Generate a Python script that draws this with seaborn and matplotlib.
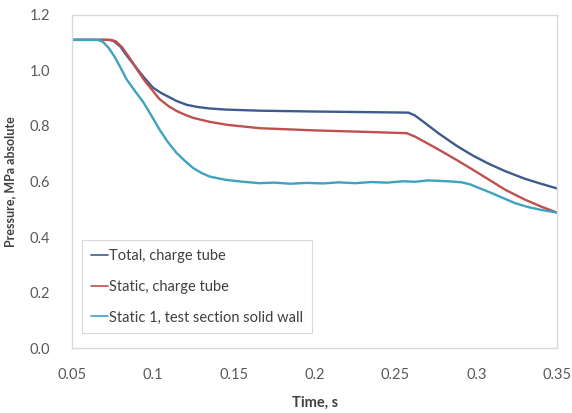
import matplotlib
matplotlib.use("Agg")
import matplotlib.pyplot as plt
import seaborn as sns
import pandas as pd

# Total pressure, charge tube
t_total = [0.050, 0.073, 0.076, 0.080, 0.084, 0.089, 0.094, 0.100, 0.105, 0.110,
           0.115, 0.121, 0.128, 0.135, 0.145, 0.166, 0.200, 0.230, 0.258, 0.262,
           0.268, 0.277, 0.288, 0.298, 0.308, 0.318, 0.330, 0.340, 0.350]
p_total = [1.11, 1.11, 1.105, 1.085, 1.052, 1.015, 0.978, 0.938, 0.919, 0.904,
           0.889, 0.876, 0.868, 0.863, 0.859, 0.855, 0.852, 0.850, 0.848, 0.838,
           0.812, 0.772, 0.728, 0.693, 0.663, 0.637, 0.610, 0.592, 0.575]

# Static pressure, charge tube
t_static = [0.050, 0.074, 0.077, 0.081, 0.085, 0.090, 0.095, 0.100, 0.104, 0.110,
            0.115, 0.120, 0.125, 0.135, 0.146, 0.166, 0.200, 0.230, 0.257, 0.262,
            0.268, 0.277, 0.288, 0.298, 0.308, 0.318, 0.330, 0.340, 0.350]
p_static = [1.11, 1.11, 1.105, 1.083, 1.050, 1.005, 0.962, 0.926, 0.897, 0.870,
            0.853, 0.840, 0.829, 0.815, 0.804, 0.792, 0.784, 0.779, 0.774, 0.762,
            0.743, 0.714, 0.677, 0.642, 0.606, 0.570, 0.535, 0.510, 0.488]

# Static 1, test section solid wall
t_wall = [0.050, 0.066, 0.069, 0.0725, 0.076, 0.080, 0.0837, 0.089, 0.094, 0.099,
          0.104, 0.109, 0.1146, 0.120, 0.125, 0.130, 0.135, 0.145, 0.156, 0.166,
          0.175, 0.185, 0.195, 0.205, 0.215, 0.225, 0.235, 0.245, 0.255, 0.262,
          0.270, 0.278, 0.285, 0.291, 0.296, 0.302, 0.308, 0.316, 0.324, 0.332,
          0.340, 0.350]
p_wall = [1.11, 1.11, 1.103, 1.082, 1.052, 1.010, 0.968, 0.925, 0.886, 0.838,
          0.788, 0.744, 0.703, 0.673, 0.648, 0.631, 0.618, 0.606, 0.599, 0.594,
          0.596, 0.592, 0.595, 0.593, 0.597, 0.594, 0.598, 0.596, 0.601, 0.599,
          0.604, 0.602, 0.600, 0.597, 0.590, 0.576, 0.562, 0.542, 0.522, 0.508,
          0.498, 0.488]

series_names = ["Total, charge tube", "Static, charge tube",
                "Static 1, test section solid wall"]
x_ticks = [0.05, 0.1, 0.15, 0.2, 0.25, 0.3, 0.35]
x_tick_labels = ["0.05", "0.1", "0.15", "0.2", "0.25", "0.3", "0.35"]
y_ticks = [0.0, 0.2, 0.4, 0.6, 0.8, 1.0, 1.2]
y_tick_labels = ["0.0", "0.2", "0.4", "0.6", "0.8", "1.0", "1.2"]

frames = []
for name, t, p in zip(series_names, [t_total, t_static, t_wall],
                      [p_total, p_static, p_wall]):
    frames.append(pd.DataFrame({"time": t, "pressure": p, "series": name}))
df = pd.concat(frames, ignore_index=True)

sns.set_theme(style="white")
plt.rcParams["font.family"] = ["Lato", "DejaVu Sans"]

fig = plt.figure(figsize=(5.72, 4.13), dpi=100)
ax = fig.add_axes([0.126, 0.157, 0.848, 0.807])

palette = {series_names[0]: "#3d5b8c",
           series_names[1]: "#c0504d",
           series_names[2]: "#3ea3bf"}

sns.lineplot(data=df, x="time", y="pressure", hue="series", palette=palette,
             estimator=None, linewidth=1.7, ax=ax, legend=True)

ax.set_xlim(0.05, 0.35)
ax.set_ylim(0.0, 1.2)
ax.set_xticks(x_ticks)
ax.set_xticklabels(x_tick_labels)
ax.set_yticks(y_ticks)
ax.set_yticklabels(y_tick_labels)

for s in ax.spines.values():
    s.set_color("#d9d9d9")
    s.set_linewidth(1.0)

ax.tick_params(axis="x", direction="in", length=4, width=0.8, color="#d0d0d0",
               labelsize=10.5, labelcolor="#595959", pad=14)
ax.tick_params(axis="y", direction="out", length=3, width=0.8, color="#d0d0d0",
               labelsize=10.5, labelcolor="#595959", pad=13)
ax.tick_params(top=False, right=False)

ax.set_xlabel("Time, s", fontsize=10.5, fontweight="bold", color="#404040",
              labelpad=10)
ax.set_ylabel("Pressure, MPa absolute", fontsize=9, fontweight="bold",
              color="#404040")
ax.yaxis.set_label_coords(-0.115, 0.5)

leg = ax.legend(loc="lower left", bbox_to_anchor=(0.02, 0.045), fontsize=10.5,
                frameon=True, fancybox=False, handlelength=1.2,
                handletextpad=0.1, labelspacing=1.15, borderpad=0.6,
                borderaxespad=0.0)
leg.get_frame().set_edgecolor("#d0d0d0")
leg.get_frame().set_linewidth(0.8)
for txt in leg.get_texts():
    txt.set_color("#404040")
for line in leg.get_lines():
    line.set_linewidth(1.2)

fig.savefig("out.png", dpi=100, facecolor="white")
